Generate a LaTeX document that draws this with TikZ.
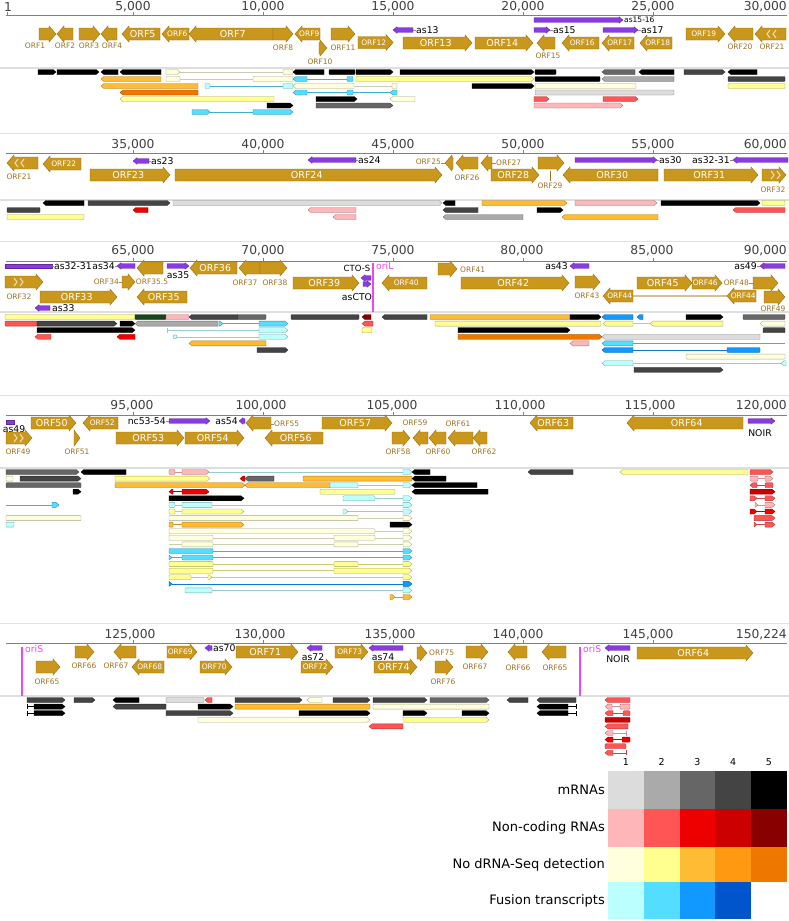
\documentclass[tikz,border=0pt]{standalone}
\usepackage{fontspec}
\setmainfont{DejaVu Sans}
\definecolor{m1}{HTML}{DCDCDC}
\definecolor{m2}{HTML}{AAAAAA}
\definecolor{m3}{HTML}{666666}
\definecolor{m4}{HTML}{444444}
\definecolor{m5}{HTML}{000000}
\definecolor{n1}{HTML}{FFB6B9}
\definecolor{n2}{HTML}{FF5555}
\definecolor{n3}{HTML}{EE0000}
\definecolor{n4}{HTML}{CC0000}
\definecolor{n5}{HTML}{880000}
\definecolor{y1}{HTML}{FFFFDD}
\definecolor{y2}{HTML}{FFFF90}
\definecolor{y3}{HTML}{FFBB33}
\definecolor{y4}{HTML}{FF9911}
\definecolor{y5}{HTML}{EE7700}
\definecolor{f1}{HTML}{BBFFFF}
\definecolor{f2}{HTML}{55DDFF}
\definecolor{f3}{HTML}{1199FF}
\definecolor{f4}{HTML}{0055CC}
\definecolor{dgreen}{HTML}{1A441A}
\definecolor{genec}{RGB}{201,151,28}
\definecolor{geneb}{RGB}{150,110,15}
\definecolor{glabc}{RGB}{155,115,35}
\definecolor{purp}{RGB}{138,58,226}
\definecolor{oric}{RGB}{240,70,240}
\newcommand\fax{\fontsize{12.3}{12}\selectfont}
\newcommand\fgb{\fontsize{9.5}{10}\selectfont}
\newcommand\fgs{\fontsize{7.5}{8}\selectfont}
\newcommand\fas{\fontsize{9.3}{10}\selectfont}
\newcommand\flg{\fontsize{13}{13}\selectfont}
\tikzset{
 gene/.style={fill=genec, draw=geneb, line width=0.4pt},
 tr/.style={fill=#1, draw=#1!65!black, line width=0.35pt},
 intr/.style={draw=#1!80!black, line width=0.5pt},
 pur/.style={fill=purp, draw=purp!70!black, line width=0.3pt},
 gin/.style={text=white, font=\fgb, inner sep=0pt},
 glab/.style={text=glabc, font=\fgs, inner sep=0pt},
 plab/.style={text=black, font=\fas, inner sep=0pt},
 axl/.style={text=black!75, font=\fax, inner sep=0pt},
 sep/.style={draw=black!13, line width=1.2pt},
 axisline/.style={draw=black!50, line width=0.8pt},
 chv/.style={draw=genec!35!white, line width=1.1pt},
 lead/.style={draw=black!45, line width=0.4pt},
 orl/.style={draw=oric, line width=1.5pt},
 legl/.style={font=\flg, anchor=east, inner sep=0pt},
}
% genes
\newcommand\gR[4]{%
 \pgfmathsetmacro\ghl{min(7,(#2)-(#1))}%
 \filldraw[gene] (#1,#3-6) -- ({#2-\ghl},#3-6) -- ({#2-\ghl},#3-8) -- (#2,#3) -- ({#2-\ghl},#3+8) -- ({#2-\ghl},#3+6) -- (#1,#3+6) -- cycle;
 \node[gin] at ({(#1+#2-\ghl*0.5)/2},#3) {#4};}
\newcommand\gL[4]{%
 \pgfmathsetmacro\ghl{min(7,(#2)-(#1))}%
 \filldraw[gene] (#2,#3-6) -- ({#1+\ghl},#3-6) -- ({#1+\ghl},#3-8) -- (#1,#3) -- ({#1+\ghl},#3+8) -- ({#1+\ghl},#3+6) -- (#2,#3+6) -- cycle;
 \node[gin] at ({(#1+#2+\ghl*0.5)/2},#3) {#4};}
% purple features
\newcommand\pR[3]{\filldraw[pur] (#1,#3-2.3) -- ({#2-4},#3-2.3) -- ({#2-4},#3-3.3) -- (#2,#3) -- ({#2-4},#3+3.3) -- ({#2-4},#3+2.3) -- (#1,#3+2.3) -- cycle;}
\newcommand\pL[3]{\filldraw[pur] (#2,#3-2.3) -- ({#1+4},#3-2.3) -- ({#1+4},#3-3.3) -- (#1,#3) -- ({#1+4},#3+3.3) -- ({#1+4},#3+2.3) -- (#2,#3+2.3) -- cycle;}
\newcommand\pB[3]{\filldraw[pur] (#1,#3-2.3) rectangle (#2,#3+2.3);}
% transcripts
\newcommand\tR[4]{\filldraw[tr=#1] (#2,#4-2.5) -- ({#3-3},#4-2.5) -- (#3,#4) -- ({#3-3},#4+2.5) -- (#2,#4+2.5) -- cycle;}
\newcommand\tL[4]{\filldraw[tr=#1] (#3,#4-2.5) -- ({#2+3},#4-2.5) -- (#2,#4) -- ({#2+3},#4+2.5) -- (#3,#4+2.5) -- cycle;}
\newcommand\tB[4]{\filldraw[tr=#1,rounded corners=0.8pt] (#2,#4-2.5) rectangle (#3,#4+2.5);}
\newcommand\tI[4]{\draw[intr=#1] (#2,#4) -- (#3,#4);}
\newcommand\tk[3]{\draw[intr=#1] (#2,#3-2.5) -- (#2,#3+2.5);}
\begin{document}
\begin{tikzpicture}[x=1pt,y=-1pt]
\useasboundingbox (0,0) rectangle (789,921);
\fill[white] (0,0) rectangle (789,921);
% ---------- frame lines ----------
\foreach \yy in {68,200,312,468,696} \draw[sep] (0,\yy) -- (789,\yy);
\foreach \yy in {133,241,395,623} \draw[draw=black!12, line width=1pt] (0,\yy) -- (789,\yy);
\foreach \yy in {15,153,261,415,643} {
  \draw[axisline] (6,\yy) -- (787,\yy);
  \foreach \xx in {133,263,393,523,653} \draw[axisline] (\xx,\yy-3) -- (\xx,\yy);
}
\draw[axisline] (7,12) -- (7,15);
% ---------- axis labels ----------
\node[axl] at (8,7) {1};
\node[axl] at (133,7) {5,000};
\node[axl] at (263,7) {10,000};
\node[axl] at (393,7) {15,000};
\node[axl] at (523,7) {20,000};
\node[axl] at (653,7) {25,000};
\node[axl,anchor=east] at (787,7) {30,000};
\node[axl] at (133,145) {35,000};
\node[axl] at (263,145) {40,000};
\node[axl] at (393,145) {45,000};
\node[axl] at (523,145) {50,000};
\node[axl] at (653,145) {55,000};
\node[axl,anchor=east] at (787,145) {60,000};
\node[axl] at (133,251) {65,000};
\node[axl] at (263,251) {70,000};
\node[axl] at (393,251) {75,000};
\node[axl] at (522,251) {80,000};
\node[axl] at (652,251) {85,000};
\node[axl,anchor=east] at (787,251) {90,000};
\node[axl] at (132,406) {95,000};
\node[axl] at (261,406) {100,000};
\node[axl] at (392,406) {105,000};
\node[axl] at (520,406) {110,000};
\node[axl] at (650,406) {115,000};
\node[axl,anchor=east] at (787,406) {120,000};
\node[axl] at (130,635) {125,000};
\node[axl] at (260,635) {130,000};
\node[axl] at (390,635) {135,000};
\node[axl] at (518,635) {140,000};
\node[axl] at (648,635) {145,000};
\node[axl,anchor=east] at (787,635) {150,224};

% ================= ROW 1 =================
\gR{39}{56}{34}{}
\gL{57}{73}{34}{}
\gR{79}{100}{34}{}
\gL{101}{117}{34}{}
\gL{122}{160}{34}{ORF5}
\gL{162}{189}{34}{\fgs ORF6}
\gL{189}{273}{34}{ORF7}
\gR{273}{293}{34}{}
\gL{295}{320}{34}{\fgs ORF9}
\gR{319}{327}{48}{}
\gR{331}{355}{34}{}
\gR{358}{393}{42.5}{\fgs ORF12}
\gR{403}{472}{43}{ORF13}
\gR{475}{533}{43}{ORF14}
\gL{537}{555}{43}{}
\gL{562}{599}{43}{\fgs ORF16}
\gL{602}{634}{43}{\fgs ORF17}
\gL{640}{672}{43}{\fgs ORF18}
\gR{686}{725}{34}{\fgs ORF19}
\gL{728}{753}{34}{}
\gL{755}{786}{34}{}
\foreach \cx in {767,773} \draw[chv] (\cx+3,30) -- (\cx,34) -- (\cx+3,38);
\node[glab] at (35,46) {ORF1};
\node[glab] at (65,46) {ORF2};
\node[glab] at (89,46) {ORF3};
\node[glab] at (112,46) {ORF4};
\node[glab] at (283,48) {ORF8};
\node[glab] at (320,62) {ORF10};
\node[glab] at (343,48) {ORF11};
\node[glab] at (548,56) {ORF15};
\node[glab] at (740,47) {ORF20};
\node[glab] at (772,47) {ORF21};
\pL{393}{413}{30} \draw[lead] (413,30) -- (416,30); \node[plab,anchor=west] at (416,30) {as13};
\pR{534}{623}{20} \node[plab,anchor=west,font=\fgs] at (624,20) {as15-16};
\pR{534}{550}{30} \draw[lead] (550,30) -- (553,30); \node[plab,anchor=west] at (553,30) {as15};
\pR{603}{638}{30} \draw[lead] (638,30) -- (641,30); \node[plab,anchor=west] at (641,30) {as17};
% transcripts row 1
\tR{m5}{38}{56}{72} \tR{m5}{57}{99}{72} \tL{m5}{101}{118}{72} \tL{m5}{120}{161}{72}
\tR{y1}{166}{180}{72} \tI{y1}{180}{283}{72} \tB{y1}{283}{293}{72}
\tL{m5}{293}{324}{72} \tB{m5}{329}{355}{72} \tR{m5}{356}{393}{72}
\tR{m5}{400}{534}{72} \tB{m5}{535}{556}{72} \tL{m3}{602}{635}{72} \tL{m5}{639}{674}{72}
\tR{m4}{684}{725}{72} \tL{m5}{728}{757}{72}
\tL{y3}{101}{161}{79} \tB{y1}{166}{180}{79} \tI{y1}{180}{253}{79} \tB{y1}{253}{293}{79}
\tL{f2}{293}{307}{79} \tI{f2}{307}{347}{79} \tB{f2}{347}{353}{79}
\tR{y2}{356}{534}{79} \tB{m5}{535}{600}{79} \tL{m2}{602}{674}{79} \tB{m4}{728}{785}{79}
\tL{y3}{101}{198}{86} \tB{f1}{205}{210}{86} \tI{f2}{210}{283}{86} \tB{f1}{283}{293}{86}
\tL{y1}{293}{354}{86} \tI{y1}{354}{392}{86} \tB{y1}{392}{397}{86}
\tR{m5}{472}{534}{86} \tB{y1}{535}{636}{86} \tB{y2}{728}{785}{86}
\tL{y5}{120}{198}{92.5} \tL{f2}{293}{307}{92.5} \tI{f2}{307}{347}{92.5} \tB{f2}{347}{353}{92.5}
\tI{f2}{353}{390}{92.5} \tL{f2}{390}{397}{92.5} \tB{m1}{535}{674}{92.5}
\tL{y2}{120}{274}{99} \tR{m5}{316}{357}{99} \tL{y1}{390}{415}{99} \tR{n2}{534}{549}{99} \tR{n2}{603}{638}{99}
\tR{m5}{267}{293}{105.5} \tR{m3}{316}{393}{105.5} \tR{n1}{534}{623}{105.5}
\tR{f2}{192}{210}{112} \tI{f2}{210}{253}{112} \tR{f2}{253}{293}{112}

% ================= ROW 2 =================
\gL{7}{38}{163}{}
\foreach \cx in {15,21} \draw[chv] (\cx+3,159) -- (\cx,163) -- (\cx+3,167);
\node[glab] at (19,177) {ORF21};
\gL{43}{81}{164}{\fgs ORF22}
\pL{133}{149}{161} \draw[lead] (149,161) -- (151,161); \node[plab,anchor=west] at (151,161) {as23};
\gR{90}{170}{175}{ORF23}
\gR{175}{442}{175}{ORF24}
\pL{308}{356}{160} \draw[lead] (356,160) -- (358,160); \node[plab,anchor=west] at (358,160) {as24};
\gL{445}{453}{163}{} \draw[lead] (441,163) -- (445,163); \node[glab,anchor=east] at (441,162) {ORF25};
\gL{456}{478}{163}{} \node[glab] at (467,178) {ORF26};
\gL{481}{492}{163}{} \draw[lead] (492,163) -- (496,163); \node[glab,anchor=west] at (496,163) {ORF27};
\gR{491}{539}{175}{ORF28}
\gR{538}{564}{163}{} \draw[glabc,line width=0.4pt] (550,171) -- (550,181); \node[glab] at (550,186) {ORF29};
\pR{575}{657}{160} \draw[lead] (657,160) -- (659,160); \node[plab,anchor=west] at (659,160) {as30};
\gL{563}{658}{175}{ORF30}
\pL{733}{788}{160} \draw[lead] (730,160) -- (733,160); \node[plab,anchor=east] at (730,160) {as32-31};
\gR{664}{758}{175}{ORF31}
\gR{762}{786}{175}{}
\foreach \cx in {774,780} \draw[chv] (\cx-3,171) -- (\cx,175) -- (\cx-3,179);
\node[glab] at (773,190) {ORF32};
% transcripts row 2
\tL{m5}{43}{84}{203} \tR{m4}{88}{170}{203} \tR{m1}{173}{442}{203} \tL{m5}{443}{455}{203}
\tR{y3}{482}{567}{203} \tR{n1}{575}{657}{203} \tR{m5}{661}{760}{203} \tB{y2}{762}{785}{203}
\tB{m4}{7}{40}{210} \tL{n3}{133}{148}{210} \tL{n1}{308}{356}{210} \tL{m4}{443}{478}{210}
\tR{m5}{537}{563}{210} \tL{n2}{733}{785}{210}
\tB{y2}{7}{84}{217} \tL{n1}{333}{356}{217} \tL{m2}{443}{523}{217} \tL{y3}{562}{658}{217}

% ================= ROW 3 =================
\pB{5}{52}{266} \draw[lead] (52,266) -- (54,266); \node[plab,anchor=west] at (54,266) {as32-31};
\pL{117}{135}{266} \draw[lead] (115,266) -- (117,266); \node[plab,anchor=east] at (115,266) {as34};
\gR{5}{43}{282}{}
\foreach \cx in {17,23} \draw[chv] (\cx-3,278) -- (\cx,282) -- (\cx-3,286);
\node[glab] at (19,297) {ORF32};
\gR{40}{117}{297}{ORF33}
\pL{35}{50}{308} \node[plab,anchor=west] at (52,308) {as33};
\gR{122}{135}{282}{} \draw[lead] (119,282) -- (122,282); \node[glab,anchor=east] at (119,282) {ORF34};
\gL{137}{163}{268}{} \node[glab] at (152,282) {ORF35.5};
\gL{137}{187}{297}{ORF35}
\pR{167}{189}{266} \node[plab] at (178,275) {as35};
\gL{190}{237}{268}{ORF36}
\gL{239}{260}{268}{} \node[glab] at (245,283) {ORF37};
\gR{260}{287}{268}{} \node[glab] at (275,283) {ORF38};
\gR{293}{359}{283}{ORF39}
\pL{361}{371}{278} \node[plab,font=\fontsize{8.5}{9}\selectfont] at (357,268) {CTO-S};
\pR{363}{371}{284} \node[plab] at (357,297) {asCTO};
\draw[orl] (373,263) -- (373,312);
\node[plab,text=oric,anchor=west] at (376,266) {oriL};
\gL{382}{427}{283}{\fgs ORF40}
\gR{438}{457}{269}{} \node[glab,anchor=west] at (460,270) {ORF41};
\gR{461}{569}{283}{ORF42}
\pL{570}{589}{266} \node[plab,anchor=east] at (568,266) {as43};
\gR{575}{600}{282}{} \node[glab] at (587,296) {ORF43};
\draw[draw=glabc!45!white, line width=1.2pt] (633,296) -- (727,296);
\gL{603}{633}{296}{\fgs ORF44}
\gL{727}{756}{296}{\fgs ORF44}
\gR{637}{692}{283}{ORF45}
\gR{692}{722}{283}{\fgs ORF46}
\gR{753}{778}{283}{} \draw[lead] (749,283) -- (753,283); \node[glab,anchor=east] at (749,283) {ORF48};
\pL{760}{785}{266} \draw[lead] (757,266) -- (760,266); \node[plab,anchor=east] at (757,266) {as49};
\gR{764}{785}{297}{} \node[glab] at (773,309) {ORF49};
% transcripts row 3
\tB{y2}{5}{135}{317} \tB{dgreen}{135}{166}{317} \tB{n1}{166}{189}{317} \tL{m4}{189}{238}{317}
\tB{m3}{238}{266}{317} \tB{m4}{291}{359}{317} \tL{n5}{362}{371}{317} \tL{m4}{382}{427}{317}
\tB{y3}{430}{570}{317} \tR{m5}{570}{601}{317} \tL{f3}{602}{633}{317} \tL{f3}{637}{643}{317}
\tR{m5}{686}{723}{317} \tB{m3}{743}{785}{317}
\tB{n2}{5}{37}{323.6} \tR{m4}{37}{117}{323.6} \tR{m5}{120}{135}{323.6} \tL{m2}{135}{218}{323.6}
\tR{f2}{219}{223}{323.6} \tI{f2}{223}{259}{323.6} \tR{f2}{259}{288}{323.6}
\tL{n2}{362}{373}{323.6} \tB{y2}{435}{601}{323.6} \tL{y2}{603}{633}{323.6} \tI{y2}{633}{650}{323.6}
\tL{y2}{650}{723}{323.6} \tL{y1}{760}{785}{323.6}
\tR{m5}{37}{135}{330.2} \tk{f1}{167}{330.2} \tI{f1}{167}{259}{330.2} \tR{f1}{259}{288}{330.2}
\tB{y2}{362}{372}{330.2} \tR{m5}{458}{570}{330.2} \tB{m4}{763}{785}{330.2}
\tL{n2}{35}{51}{336.8} \tL{n3}{117}{135}{336.8}
\filldraw[tr=f1] (175,336.8) circle (2pt); \tI{f1}{177}{259}{336.8} \tR{f1}{259}{288}{336.8}
\tR{y5}{458}{602}{336.8} \tL{m1}{602}{760}{336.8}
\tL{y3}{189}{266}{343.4} \tL{n1}{570}{589}{343.4} \tL{f2}{602}{633}{343.4} \tI{f2}{633}{785}{343.4}
\tR{m4}{257}{288}{350} \tL{f3}{602}{633}{350} \tI{f3}{633}{727}{350} \tB{f3}{727}{760}{350}
\tB{y1}{686}{785}{356.6}
\tL{f1}{602}{633}{363.2} \tI{f1}{633}{781}{363.2} \tL{f1}{781}{786}{363.2}
\tR{m4}{634}{723}{369.8}

% ================= ROW 4 =================
\pB{6}{14}{422} \node[plab] at (14,429) {as49};
\gR{6}{32}{438}{}
\foreach \cx in {17,23} \draw[chv] (\cx-3,434) -- (\cx,438) -- (\cx-3,442);
\node[glab] at (18,452) {ORF49};
\gR{31}{76}{423}{ORF50}
\gR{74}{80}{438}{} \node[glab] at (77,452) {ORF51};
\gL{83}{118}{423}{\fgs ORF52}
\pR{169}{210}{421} \draw[lead] (166,421) -- (169,421); \node[plab,anchor=east] at (166,421) {nc53-54};
\gR{116}{184}{438}{ORF53}
\gR{185}{244}{438}{ORF54}
\pL{239}{245}{421} \node[plab,anchor=east] at (238,421) {as54};
\gL{246}{271}{423}{} \draw[lead] (271,424) -- (274,424); \node[glab,anchor=west] at (274,424) {ORF55};
\gL{265}{323}{438}{ORF56}
\gR{322}{392}{423}{ORF57}
\gR{392}{410}{438}{} \node[glab] at (398,452) {ORF58};
\gL{413}{428}{438}{} \node[glab] at (415,423) {ORF59};
\gL{429}{446}{438}{} \node[glab] at (438,452) {ORF60};
\gL{448}{473}{438}{} \node[glab] at (458,424) {ORF61};
\gL{473}{487}{438}{} \node[glab] at (484,452) {ORF62};
\gL{530}{573}{423}{ORF63}
\gL{627}{743}{423}{ORF64}
\pR{748}{775}{421} \node[plab] at (760,433) {NOIR};
% transcripts row 4
% k0
\tR{m3}{6}{79}{472} \tL{m5}{81}{126}{472} \tB{n1}{169}{175}{472} \tI{n1}{175}{182}{472} \tR{n1}{182}{209}{472}
\tI{f1}{209}{403}{472} \tR{f1}{403}{412}{472} \tL{m5}{412}{430}{472} \tL{m4}{528}{573}{472}
\tL{y2}{620}{748}{472} \tR{n2}{750}{773}{472}
% k1
\tB{y1}{6}{13}{478.6} \tR{m4}{20}{81}{478.6} \tR{y2}{115}{210}{478.6} \tL{n3}{240}{245}{478.6}
\tL{m3}{245}{274}{478.6} \tB{y3}{303}{412}{478.6} \tL{m5}{412}{446}{478.6}
\tB{n1}{750}{758}{478.6} \tI{n1}{758}{765}{478.6} \tR{n1}{765}{773}{478.6}
% k2
\tB{m3}{6}{81}{485.2} \tR{y3}{115}{245}{485.2} \tL{y3}{245}{330}{485.2} \tB{f1}{330}{358}{485.2}
\tI{f1}{358}{403}{485.2} \tR{f1}{403}{412}{485.2} \tL{m5}{412}{477}{485.2}
\tL{n2}{750}{757}{485.2} \tI{n2}{757}{765}{485.2} \tB{n2}{765}{773}{485.2}
% k3
\tR{m5}{73}{81}{491.7} \tL{n3}{169}{173}{491.7} \tI{n3}{173}{182}{491.7} \tR{n3}{182}{209}{491.7}
\tB{y2}{320}{395}{491.7} \tL{m5}{412}{488}{491.7} \tR{n4}{750}{775}{491.7}
% k4
\tR{m5}{169}{244}{498.3} \tB{f1}{343}{375}{498.3} \tI{f1}{375}{403}{498.3} \tR{f1}{403}{412}{498.3}
\tR{n2}{750}{757}{498.3} \tI{n2}{757}{765}{498.3} \tR{n2}{765}{775}{498.3}
% k5
\tI{f2}{6}{52}{504.9} \tR{f2}{52}{59}{504.9} \tB{f1}{169}{175}{504.9} \tI{f1}{175}{182}{504.9}
\tB{f1}{182}{212}{504.9} \tI{f1}{212}{403}{504.9} \tR{f1}{403}{412}{504.9}
\tR{n1}{755}{758}{504.9} \tI{n1}{758}{765}{504.9} \tR{n1}{765}{775}{504.9}
% k6
\tB{y2}{169}{175}{511.5} \tI{y2}{175}{182}{511.5} \tR{y2}{182}{244}{511.5} \tR{f1}{343}{348}{511.5}
\tI{f1}{348}{403}{511.5} \tR{f1}{403}{412}{511.5}
\tR{n3}{750}{757}{511.5} \tI{n3}{757}{765}{511.5} \tR{n3}{765}{775}{511.5}
% k7
\tB{y1}{6}{81}{518.1} \tB{y1}{169}{358}{518.1} \tI{y1}{358}{403}{518.1} \tR{y1}{403}{412}{518.1}
\tR{n2}{754}{775}{518.1}
% k8
\tB{f1}{6}{14}{524.6} \tB{y3}{169}{173}{524.6} \tI{y3}{173}{182}{524.6} \tR{y3}{182}{244}{524.6}
\tR{m5}{390}{412}{524.6} \tR{n2}{754}{757}{524.6} \tI{n2}{757}{765}{524.6} \tR{n2}{765}{775}{524.6}
% k9
\tB{y1}{169}{375}{531.2} \tI{y1}{375}{403}{531.2} \tR{y1}{403}{412}{531.2}
% k10
\tB{y1}{169}{213}{537.8} \tI{y1}{213}{334}{537.8} \tB{y1}{334}{375}{537.8} \tI{y1}{375}{403}{537.8} \tR{y1}{403}{412}{537.8}
% k11
\tI{y1}{169}{182}{544.4} \tB{y1}{182}{213}{544.4} \tI{y1}{213}{334}{544.4} \tB{y1}{334}{358}{544.4}
\tI{y1}{358}{403}{544.4} \tR{y1}{403}{412}{544.4}
% k12
\tB{f2}{169}{213}{551} \tI{f2}{213}{403}{551} \tR{f2}{403}{412}{551}
% k13
\tR{f2}{169}{172}{557.5} \tI{f2}{172}{182}{557.5} \tB{f2}{182}{213}{557.5} \tI{f2}{213}{403}{557.5} \tR{f2}{403}{412}{557.5}
% k14
\tB{y2}{169}{213}{564.1} \tI{y2}{213}{334}{564.1} \tB{y2}{334}{358}{564.1} \tI{y2}{358}{403}{564.1} \tR{y2}{403}{412}{564.1}
% k15
\tB{y2}{169}{213}{570.7} \tI{y2}{213}{334}{570.7} \tR{y2}{334}{412}{570.7}
% k16
\tB{y2}{169}{191}{577.3} \tI{y2}{191}{208}{577.3} \tR{y2}{208}{212}{577.3} \tI{y2}{212}{403}{577.3} \tR{y2}{403}{412}{577.3}
% k17
\tR{f3}{169}{172}{583.9} \tI{f3}{172}{403}{583.9} \tR{f3}{403}{412}{583.9}
% k18
\tB{f1}{185}{212}{590.4} \tI{f1}{212}{403}{590.4} \tR{f1}{403}{412}{590.4}
% k19
\tR{y3}{390}{395}{597} \tI{y3}{395}{403}{597} \tR{y3}{403}{412}{597}

% ================= ROW 5 =================
\draw[orl] (22,647) -- (22,696); \node[plab,text=oric,anchor=west] at (25,649) {oriS};
\gR{36}{60}{667}{} \node[glab] at (47,682) {ORF65};
\gR{75}{94}{652}{} \node[glab] at (84,666) {ORF66};
\gL{114}{136}{652}{} \node[glab] at (116,666) {ORF67};
\gL{132}{164}{667}{\fgs ORF68}
\gR{167}{197}{652}{\fgs ORF69}
\pL{205}{212}{648} \node[plab,anchor=west] at (213,648) {as70};
\gR{200}{232}{667}{\fgs ORF70}
\gR{236}{298}{652}{ORF71}
\pL{307}{322}{648} \node[plab] at (313,657) {as72};
\gR{301}{333}{667}{\fgs ORF72}
\gR{335}{368}{652}{\fgs ORF73}
\pL{369}{403}{648} \node[plab] at (383,657) {as74};
\gR{374}{417}{667}{ORF74}
\gR{417}{427}{653}{} \node[glab,anchor=west] at (429,653) {ORF75};
\gR{435}{453}{667}{} \node[glab] at (443,682) {ORF76};
\gR{466}{488}{652}{} \node[glab] at (475,667) {ORF67};
\gL{508}{527}{652}{} \node[glab] at (518,668) {ORF66};
\gL{542}{566}{652}{} \node[glab] at (555,668) {ORF65};
\draw[orl] (580,647) -- (580,696); \node[plab,text=oric,anchor=west] at (583,649) {oriS};
\pL{605}{630}{648} \node[plab] at (618,659) {NOIR};
\gR{637}{753}{653}{ORF64}
% transcripts row 5
\tR{m4}{27}{65}{700} \tR{m4}{74}{95}{700} \tL{m5}{113}{139}{700} \tB{m1}{166}{204}{700}
\tL{n2}{205}{212}{700} \tR{m4}{235}{302}{700} \tL{y1}{307}{322}{700} \tR{m4}{333}{370}{700}
\tR{m4}{373}{427}{700} \tR{m3}{430}{489}{700} \tL{m4}{507}{528}{700} \tL{m4}{537}{576}{700}
\tL{n2}{605}{630}{700}
\tk{m5}{27}{706.6} \tI{m5}{27}{34}{706.6} \tR{m5}{34}{65}{706.6} \tL{m4}{113}{166}{706.6}
\tR{m5}{198}{233}{706.6} \tB{y3}{235}{370}{706.6} \tB{y1}{373}{489}{706.6}
\tL{m5}{537}{568}{706.6} \tI{m5}{568}{576}{706.6} \tk{m5}{576}{706.6}
\tL{n1}{605}{612}{706.6} \tI{n1}{612}{620}{706.6} \tB{n1}{620}{630}{706.6}
\tk{m5}{27}{713.2} \tI{m5}{27}{34}{713.2} \tR{m5}{34}{65}{713.2} \tR{m4}{166}{233}{713.2}
\tR{m5}{299}{370}{713.2} \tR{m5}{403}{427}{713.2} \tR{m5}{462}{489}{713.2}
\tL{m5}{537}{568}{713.2} \tI{m5}{568}{576}{713.2} \tk{m5}{576}{713.2}
\tL{n2}{605}{613}{713.2} \tI{n2}{613}{623}{713.2} \tB{n2}{623}{630}{713.2}
\tR{y1}{198}{370}{719.8} \tR{y2}{403}{489}{719.8} \tB{n4}{605}{630}{719.8}
\tL{n2}{369}{403}{726.4} \tL{n2}{605}{628}{726.4}
\tL{n1}{605}{613}{733} \tI{n1}{613}{626}{733} \tk{n1}{626}{733}
\tL{n3}{605}{613}{739.6} \tI{n3}{613}{622}{739.6} \tB{n3}{622}{630}{739.6}
\tB{n2}{605}{626}{746.2}
\tL{n2}{605}{613}{752.8} \tI{n2}{613}{626}{752.8} \tk{n2}{626}{752.8}

% ================= LEGEND =================
\foreach \c [count=\i from 0] in {m1,m2,m3,m4,m5} \fill[\c] ({608+35.8*\i},771) rectangle ({608+35.8*(\i+1)},809);
\foreach \c [count=\i from 0] in {n1,n2,n3,n4,n5} \fill[\c] ({608+35.8*\i},809) rectangle ({608+35.8*(\i+1)},847);
\foreach \c [count=\i from 0] in {y1,y2,y3,y4,y5} \fill[\c] ({608+35.8*\i},847) rectangle ({608+35.8*(\i+1)},882);
\foreach \c [count=\i from 0] in {f1,f2,f3,f4} \fill[\c] ({608+35.8*\i},882) rectangle ({608+35.8*(\i+1)},919);
\foreach \i in {1,...,5} \node[font=\fontsize{9.5}{9}\selectfont, inner sep=0pt] (col\i) at ({590+35.8*\i},762) {\i};
\node[legl] (lm) at (605,790) {mRNAs};
\node[legl] (ln) at (605,828) {Non-coding RNAs};
\node[legl] (ly) at (605,865) {No dRNA-Seq detection};
\node[legl] (lf) at (605,901) {Fusion transcripts};
\end{tikzpicture}
\end{document}
